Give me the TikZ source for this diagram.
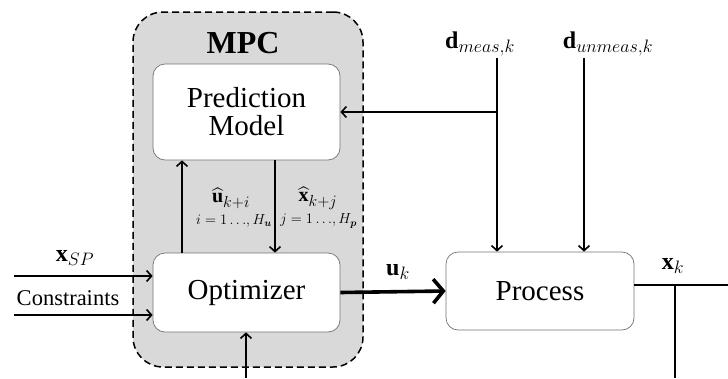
\RequirePackage{fix-cm}
\documentclass[tikz,border=0pt]{standalone}
\usepackage{amsmath,amssymb,bm}
\usepackage{fontspec}
\setmainfont{Liberation Serif}
\usetikzlibrary{arrows.meta,calc}
\newcommand\subsz[1]{\mbox{\fontsize{18}{19}\selectfont$#1$}}
\newcommand\subsm[1]{\mbox{\fontsize{16}{17}\selectfont$#1$}}
\begin{document}
\begin{tikzpicture}[x=1pt,y=-1pt,
  blk/.style={draw=black!55,line width=0.7pt,fill=white,rounded corners=12pt,minimum width=187pt,align=center,font=\fontsize{29}{30}\selectfont},
  ln/.style={line width=1.6pt},
  arr/.style={ln,-{Straight Barb[length=5pt,width=11pt]}},
  thk/.style={line width=3.6pt,-{Straight Barb[length=10pt,width=24pt]}},
  lbl/.style={inner sep=0pt,font=\fontsize{24}{26}\selectfont},
  sml/.style={inner sep=0pt,font=\fontsize{14.5}{16}\selectfont}]
\useasboundingbox (0,0) rectangle (728,378);
% MPC container
\node[draw,dashed,dash pattern=on 7pt off 4pt,line width=1.5pt,fill=black!15,rounded corners=30pt,minimum width=230pt,minimum height=355pt,inner sep=0pt] (mpc) at (248,189.5) {};
\node[inner sep=0pt,font=\bfseries\fontsize{32}{34}\selectfont] (mpct) at (243,43) {MPC};
% Blocks
\node[blk,minimum height=96pt] (pm) at (246.5,112) {Prediction\\[-2pt]Model};
\node[blk,minimum height=79pt] (opt) at (246.5,292.5) {Optimizer};
\node[blk,minimum width=188pt,minimum height=78pt] (proc) at (540,291) {Process};
% coordinates
\coordinate (xsp0) at (14,276);
\coordinate (con0) at (14,315);
\coordinate (bot) at (246,378);
\coordinate (dm0) at (497,58);
\coordinate (du0) at (584,58);
\coordinate (dmj) at (497,112);
\coordinate (xo) at (728,285);
\coordinate (xj) at (675,285);
\coordinate (xb) at (675,378);
\coordinate (up) at (182,0);
\coordinate (dn) at (275,0);
% inner arrows
\draw[arr] (opt.north -| up) -- (pm.south -| up);
\draw[arr] (pm.south -| dn) -- (opt.north -| dn);
\node[lbl,font=\fontsize{20}{22}\selectfont] (uh) at (231,198) {$\widehat{\mathbf{u}}_{\subsm{k{+}i}}$};
\node[sml,anchor=east] (ui) at (272,221) {$i=1\,{\ldots},H_{\bm{u}}$};
\node[lbl,font=\fontsize{20}{22}\selectfont] (xh) at (318,198) {$\widehat{\mathbf{x}}_{\subsm{k{+}j}}$};
\node[sml,anchor=west] (xi) at (280,221) {$j=1\,{\ldots},H_{\bm{p}}$};
% inputs
\draw[arr] (xsp0) -- (opt.west |- xsp0);
\draw[arr] (con0) -- (opt.west |- con0);
\node[lbl] (xspl) at (75,258) {$\mathbf{x}_{\subsz{SP}}$};
\node[inner sep=0pt,font=\fontsize{22.5}{24}\selectfont] (conl) at (68,298) {Constraints};
\draw[arr] (bot) -- (opt.south -| bot);
% u_k
\draw[thk] (opt.east) -- (proc.west);
\node[lbl] (ukl) at (398,272) {$\mathbf{u}_{\subsz{k}}$};
% disturbances
\node[lbl] (dml) at (480,44) {$\mathbf{d}_{\subsz{meas{,}k}}$};
\node[lbl] (dul) at (608,44) {$\mathbf{d}_{\subsz{unmeas{,}k}}$};
\draw[arr] (dm0) -- (proc.north -| dm0);
\draw[arr] (du0) -- (proc.north -| du0);
\draw[arr] (dmj) -- (pm.east);
% output
\draw[ln] (proc.east |- xo) -- (xo);
\draw[ln] (xj) -- (xb);
\node[lbl] (xkl) at (673,266) {$\mathbf{x}_{\subsz{k}}$};
\end{tikzpicture}
\end{document}
